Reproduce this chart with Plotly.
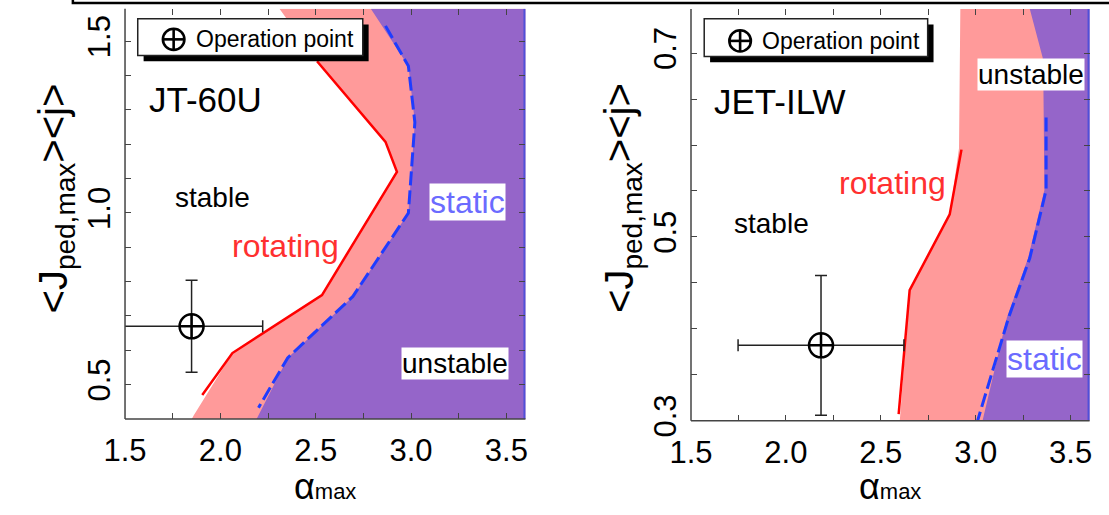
import plotly.graph_objects as go

# ---------------- data ----------------
# JT-60U panel
jt_rot_line_x = [2.507, 2.866, 2.926, 2.533, 2.063, 1.905]
jt_rot_line_y = [1.442, 1.207, 1.120, 0.761, 0.592, 0.470]
jt_rot_edge_x = [2.31, 2.507, 2.866, 2.926, 2.533, 2.063, 1.86, 1.85]
jt_rot_edge_y = [1.595, 1.442, 1.207, 1.120, 0.761, 0.592, 0.41, 0.40]
jt_sta_edge_x = [2.789, 2.986, 3.02, 2.986, 2.695, 2.353, 2.19]
jt_sta_edge_y = [1.595, 1.428, 1.264, 1.0, 0.757, 0.578, 0.40]
jt_sta_line_x = [2.866, 2.986, 3.02, 2.986, 2.695, 2.353, 2.20]
jt_sta_line_y = [1.545, 1.428, 1.264, 1.0, 0.757, 0.578, 0.433]
jt_op_x, jt_op_y = [1.849], [0.670]
jt_op_ex, jt_op_ey = [0.373], [0.134]

# JET-ILW panel
jet_rot_line_x = [2.925, 2.863, 2.652, 2.594]
jet_rot_line_y = [0.595, 0.5245, 0.442, 0.307]
jet_rot_edge_x = [2.919, 2.912, 2.863, 2.652, 2.60]
jet_rot_edge_y = [0.748, 0.5965, 0.5245, 0.442, 0.30]
jet_sta_edge_x = [3.285, 3.353, 3.357, 3.362, 3.276, 3.164, 3.036]
jet_sta_edge_y = [0.748, 0.695, 0.658, 0.551, 0.477, 0.412, 0.30]
jet_sta_line_x = [3.371, 3.371, 3.285, 3.173, 3.01]
jet_sta_line_y = [0.630, 0.551, 0.477, 0.412, 0.30]
jet_op_x, jet_op_y = [2.185], [0.382]
jet_op_ex, jet_op_ey = [0.437], [0.076]

x_range = [1.5, 3.6]
jt_y_range = [0.4, 1.595]
jet_y_range = [0.3, 0.748]
x_tickvals = [1.5, 2.0, 2.5, 3.0, 3.5]
x_ticktext = ["1.5", "2.0", "2.5", "3.0", "3.5"]
jt_y_tickvals = [0.5, 1.0, 1.5]
jt_y_ticktext = ["0.5", "1.0", "1.5"]
jet_y_tickvals = [0.3, 0.5, 0.7]
jet_y_ticktext = ["0.3", "0.5", "0.7"]

# region labels: (text, x, y, colour, size, background)
jt_labels = [("JT-60U", 1.922, 1.332, "black", 35, None),
             ("stable", 1.960, 1.046, "black", 28, None),
             ("rotating", 2.340, 0.905, "#ff3030", 32, None),
             ("static", 3.295, 1.032, "#6b6bff", 32, "white"),
             ("unstable", 3.233, 0.561, "black", 28, "white")]
jet_labels = [("JET-ILW", 1.970, 0.647, "black", 35, None),
              ("stable", 1.923, 0.5147, "black", 28, None),
              ("rotating", 2.563, 0.559, "#ff3030", 32, None),
              ("unstable", 3.291, 0.677, "black", 28, "white"),
              ("static", 3.365, 0.367, "#6b6bff", 32, "white")]

# ---------------- layout geometry ----------------
W, H = 1109, 515
def px(v): return v / W
def py(v): return 1 - v / H

PINK = "#ff9a9a"
PURPLE = "#9565c9"
FONT = "Liberation Sans"

fig = go.Figure()

def add_panel(xa, ya, rot_edge_x, rot_edge_y, sta_edge_x, sta_edge_y,
              rot_line_x, rot_line_y, sta_line_x, sta_line_y,
              op_x, op_y, op_ex, op_ey, yr, cap):
    fig.add_trace(go.Scatter(x=rot_edge_x + [x_range[1], x_range[1]],
                             y=rot_edge_y + [yr[0], yr[1]],
                             fill="toself", fillcolor=PINK, mode="lines",
                             line=dict(width=0), xaxis=xa, yaxis=ya,
                             showlegend=False, hoverinfo="skip"))
    fig.add_trace(go.Scatter(x=sta_edge_x + [x_range[1], x_range[1]],
                             y=sta_edge_y + [yr[0], yr[1]],
                             fill="toself", fillcolor=PURPLE, mode="lines",
                             line=dict(width=0), xaxis=xa, yaxis=ya,
                             showlegend=False, hoverinfo="skip"))
    fig.add_trace(go.Scatter(x=[x_range[1] - 0.004] * 2, y=yr, mode="lines",
                             line=dict(color="#5050d8", width=2.5),
                             xaxis=xa, yaxis=ya, showlegend=False, hoverinfo="skip"))
    fig.add_trace(go.Scatter(x=rot_line_x, y=rot_line_y, mode="lines",
                             line=dict(color="#ff0000", width=2.5),
                             xaxis=xa, yaxis=ya, showlegend=False))
    fig.add_trace(go.Scatter(x=sta_line_x, y=sta_line_y, mode="lines",
                             line=dict(color="#1f3cff", width=3, dash="14px,5px"),
                             xaxis=xa, yaxis=ya, showlegend=False))
    fig.add_trace(go.Scatter(x=op_x, y=op_y, mode="markers",
                             marker=dict(symbol="circle-cross-open", size=24,
                                         color="black", line=dict(width=2.5, color="black")),
                             error_x=dict(type="data", array=op_ex, color="#222",
                                          thickness=1.5, width=cap),
                             error_y=dict(type="data", array=op_ey, color="#222",
                                          thickness=1.5, width=cap),
                             xaxis=xa, yaxis=ya, showlegend=False))

add_panel("x", "y", jt_rot_edge_x, jt_rot_edge_y, jt_sta_edge_x, jt_sta_edge_y,
          jt_rot_line_x, jt_rot_line_y, jt_sta_line_x, jt_sta_line_y,
          jt_op_x, jt_op_y, jt_op_ex, jt_op_ey, jt_y_range, 6)
add_panel("x2", "y2", jet_rot_edge_x, jet_rot_edge_y, jet_sta_edge_x, jet_sta_edge_y,
          jet_rot_line_x, jet_rot_line_y, jet_sta_line_x, jet_sta_line_y,
          jet_op_x, jet_op_y, jet_op_ex, jet_op_ey, jet_y_range, 6)

tick_font = dict(family=FONT, size=31, color="black")
common = dict(ticks="inside", ticklen=6, tickcolor="#444", tickwidth=1.2,
              showline=False, mirror="ticks", showgrid=False, zeroline=False,
              tickfont=tick_font)

fig.update_layout(
    width=W, height=H, margin=dict(l=0, r=0, t=0, b=0),
    paper_bgcolor="white", plot_bgcolor="white", showlegend=False,
    xaxis=dict(domain=[px(105.3), px(514.6)], range=x_range, anchor="y",
               tickvals=x_tickvals, ticktext=x_ticktext, ticklabelstandoff=10,
               minor=dict(dtick=0.25, tick0=1.5, ticks="inside", ticklen=6,
                          tickcolor="#444"), **common),
    yaxis=dict(domain=[py(433.3), py(9)], range=jt_y_range, anchor="x",
               tickvals=jt_y_tickvals, ticktext=jt_y_ticktext, tickangle=-90,
               ticklabelstandoff=8,
               minor=dict(dtick=0.1, tick0=0.5, ticks="inside", ticklen=6,
                          tickcolor="#444"), **common),
    xaxis2=dict(domain=[px(683.8), px(1091.2)], range=x_range, anchor="y2",
                tickvals=x_tickvals, ticktext=x_ticktext, ticklabelstandoff=10,
                minor=dict(dtick=0.25, tick0=1.5, ticks="inside", ticklen=6,
                           tickcolor="#444"), **common),
    yaxis2=dict(domain=[py(435), py(9.4)], range=jet_y_range, anchor="x2",
                tickvals=jet_y_tickvals, ticktext=jet_y_ticktext, tickangle=-90,
                ticklabelstandoff=8,
                minor=dict(dtick=0.05, tick0=0.3, ticks="inside", ticklen=6,
                           tickcolor="#444"), **common),
)

shapes = []
# left/bottom axis lines
for xr, yr in (("x", "y"), ("x2", "y2")):
    shapes.append(dict(type="line", xref=f"{xr} domain", yref=f"{yr} domain",
                       x0=0, x1=0, y0=0, y1=1, line=dict(color="#444", width=1.5)))
    shapes.append(dict(type="line", xref=f"{xr} domain", yref=f"{yr} domain",
                       x0=0, x1=1, y0=0, y1=0, line=dict(color="#444", width=1.5)))
# top frame fragment
shapes.append(dict(type="rect", xref="paper", yref="paper",
                   x0=px(52), x1=1.02, y0=py(3), y1=1.05,
                   line=dict(color="black", width=2.5)))
# legend boxes with shadows and the circled-plus symbol
legend_boxes = [((118.3, 19.3, 348.3, 57.3), (155, 40.7)),
                ((697.3, 19.3, 925.7, 58.3), (734, 42.3))]
for (l, t, r, b), (cx, cy) in legend_boxes:
    shapes.append(dict(type="rect", xref="paper", yref="paper",
                       x0=px(l + 6), x1=px(r + 6), y0=py(b + 6), y1=py(t + 6),
                       fillcolor="black", line=dict(width=0)))
    shapes.append(dict(type="rect", xref="paper", yref="paper",
                       x0=px(l), x1=px(r), y0=py(b), y1=py(t),
                       fillcolor="white", line=dict(color="#222", width=1.5)))
    rr = 11
    shapes.append(dict(type="circle", xref="paper", yref="paper",
                       x0=px(cx - rr), x1=px(cx + rr), y0=py(cy + rr), y1=py(cy - rr),
                       line=dict(color="black", width=2.6)))
    shapes.append(dict(type="line", xref="paper", yref="paper",
                       x0=px(cx - rr), x1=px(cx + rr), y0=py(cy), y1=py(cy),
                       line=dict(color="black", width=2.6)))
    shapes.append(dict(type="line", xref="paper", yref="paper",
                       x0=px(cx), x1=px(cx), y0=py(cy + rr), y1=py(cy - rr),
                       line=dict(color="black", width=2.6)))
fig.update_layout(shapes=shapes)

annotations = []
for (lx, ly) in ((176, 40.7), (754, 42.3)):
    annotations.append(dict(text="Operation point", xref="paper", yref="paper",
                            x=px(lx), y=py(ly), xanchor="left", yanchor="middle",
                            showarrow=False, font=dict(family=FONT, size=23, color="black")))

for labels, xr, yr in ((jt_labels, "x", "y"), (jet_labels, "x2", "y2")):
    for (txt, lx, ly, col, sz, bg) in labels:
        a = dict(text=txt, xref=xr, yref=yr, x=lx, y=ly, showarrow=False,
                 xanchor="center", yanchor="middle",
                 font=dict(family=FONT, size=sz, color=col), borderpad=0)
        if bg:
            a["bgcolor"] = bg
        annotations.append(a)

ytitle = "&lt;J<sub>ped,max</sub>&gt;&lt;j&gt;"
for xc in (35, 614):
    annotations.append(dict(text=ytitle, xref="paper", yref="paper", x=px(xc), y=py(205),
                            textangle=-90, showarrow=False, xanchor="center", yanchor="middle",
                            font=dict(family=FONT, size=40, color="black")))
xtitle = "α<span style='font-size:22px'>max</span>"
for xc in (310, 887.5):
    annotations.append(dict(text=xtitle, xref="paper", yref="paper", x=px(xc), y=py(503),
                            showarrow=False, xanchor="center", yanchor="middle",
                            font=dict(family=FONT, size=36, color="black")))
fig.update_layout(annotations=annotations)

fig.write_html("out.html")
